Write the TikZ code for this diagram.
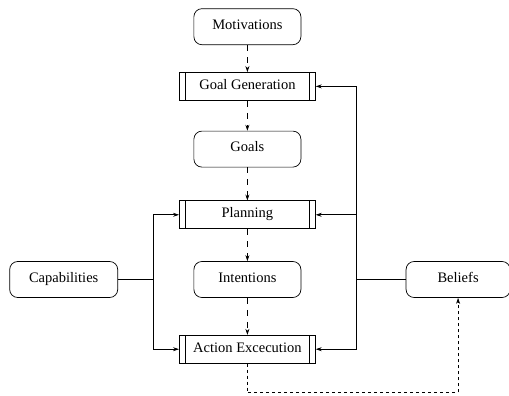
\documentclass[tikz,border=0pt]{standalone}
\usepackage{fontspec}
\setmainfont{Liberation Serif}
\usetikzlibrary{matrix,arrows.meta,calc}

\tikzset{
  store/.style={draw, rounded corners=8pt, minimum width=107pt, minimum height=36pt},
  proc/.style={draw, minimum width=136pt, minimum height=28pt,
    path picture={
      \draw ([xshift=6pt]path picture bounding box.north west) -- ([xshift=6pt]path picture bounding box.south west);
      \draw ([xshift=-6pt]path picture bounding box.north east) -- ([xshift=-6pt]path picture bounding box.south east);}},
  flow/.style={->, dash pattern=on 6pt off 6pt}
}

\begin{document}
\begin{tikzpicture}[>={Stealth[length=6pt,width=4pt]}, line width=0.7pt,
  font=\fontsize{14.5pt}{17pt}\selectfont]
\useasboundingbox (0,0) rectangle (509pt,-396pt);
\matrix(m)[matrix of nodes, anchor=north west, inner sep=0pt,
row sep=27pt, column sep=61pt,
text height=1.5ex, text depth=0.25ex] at (9pt,-8pt)
{
&|[store]|Motivations&[29pt] \\
&|[proc]|Goal Generation& \\[3pt]
&|[store]|Goals& \\[6pt]
&|[proc]|Planning& \\[5pt]
|[store,minimum width=108pt]|Capabilities&|[store]|Intentions&|[store,minimum width=104pt]|Beliefs\\[10pt]
&|[proc]|Action Excecution& \\};
\path[flow](m-1-2) edge (m-2-2);
\path[flow](m-2-2) edge (m-3-2);
\path[flow](m-3-2) edge (m-4-2);
\path[flow](m-4-2) edge (m-5-2);
\path[flow](m-5-2) edge (m-6-2);
% side buses
\coordinate (capbus) at ($(m-6-2.west |- m-5-1)+(-26pt,0)$);
\coordinate (belbus) at ($(m-6-2.east |- m-5-3)+(41pt,0)$);
\draw (m-5-1) -- (capbus);
\draw[->] (capbus) |- (m-4-2);
\draw[->] (capbus) |- (m-6-2);
\draw (m-5-3) -- (belbus);
\draw[->] (belbus) |- (m-2-2);
\draw[->] (belbus) |- (m-4-2);
\draw[->] (belbus) |- (m-6-2);
% feedback
\draw[->,dashed] (m-6-2.south) -- ++(0,-29pt) -| (m-5-3);
\end{tikzpicture}
\end{document}
